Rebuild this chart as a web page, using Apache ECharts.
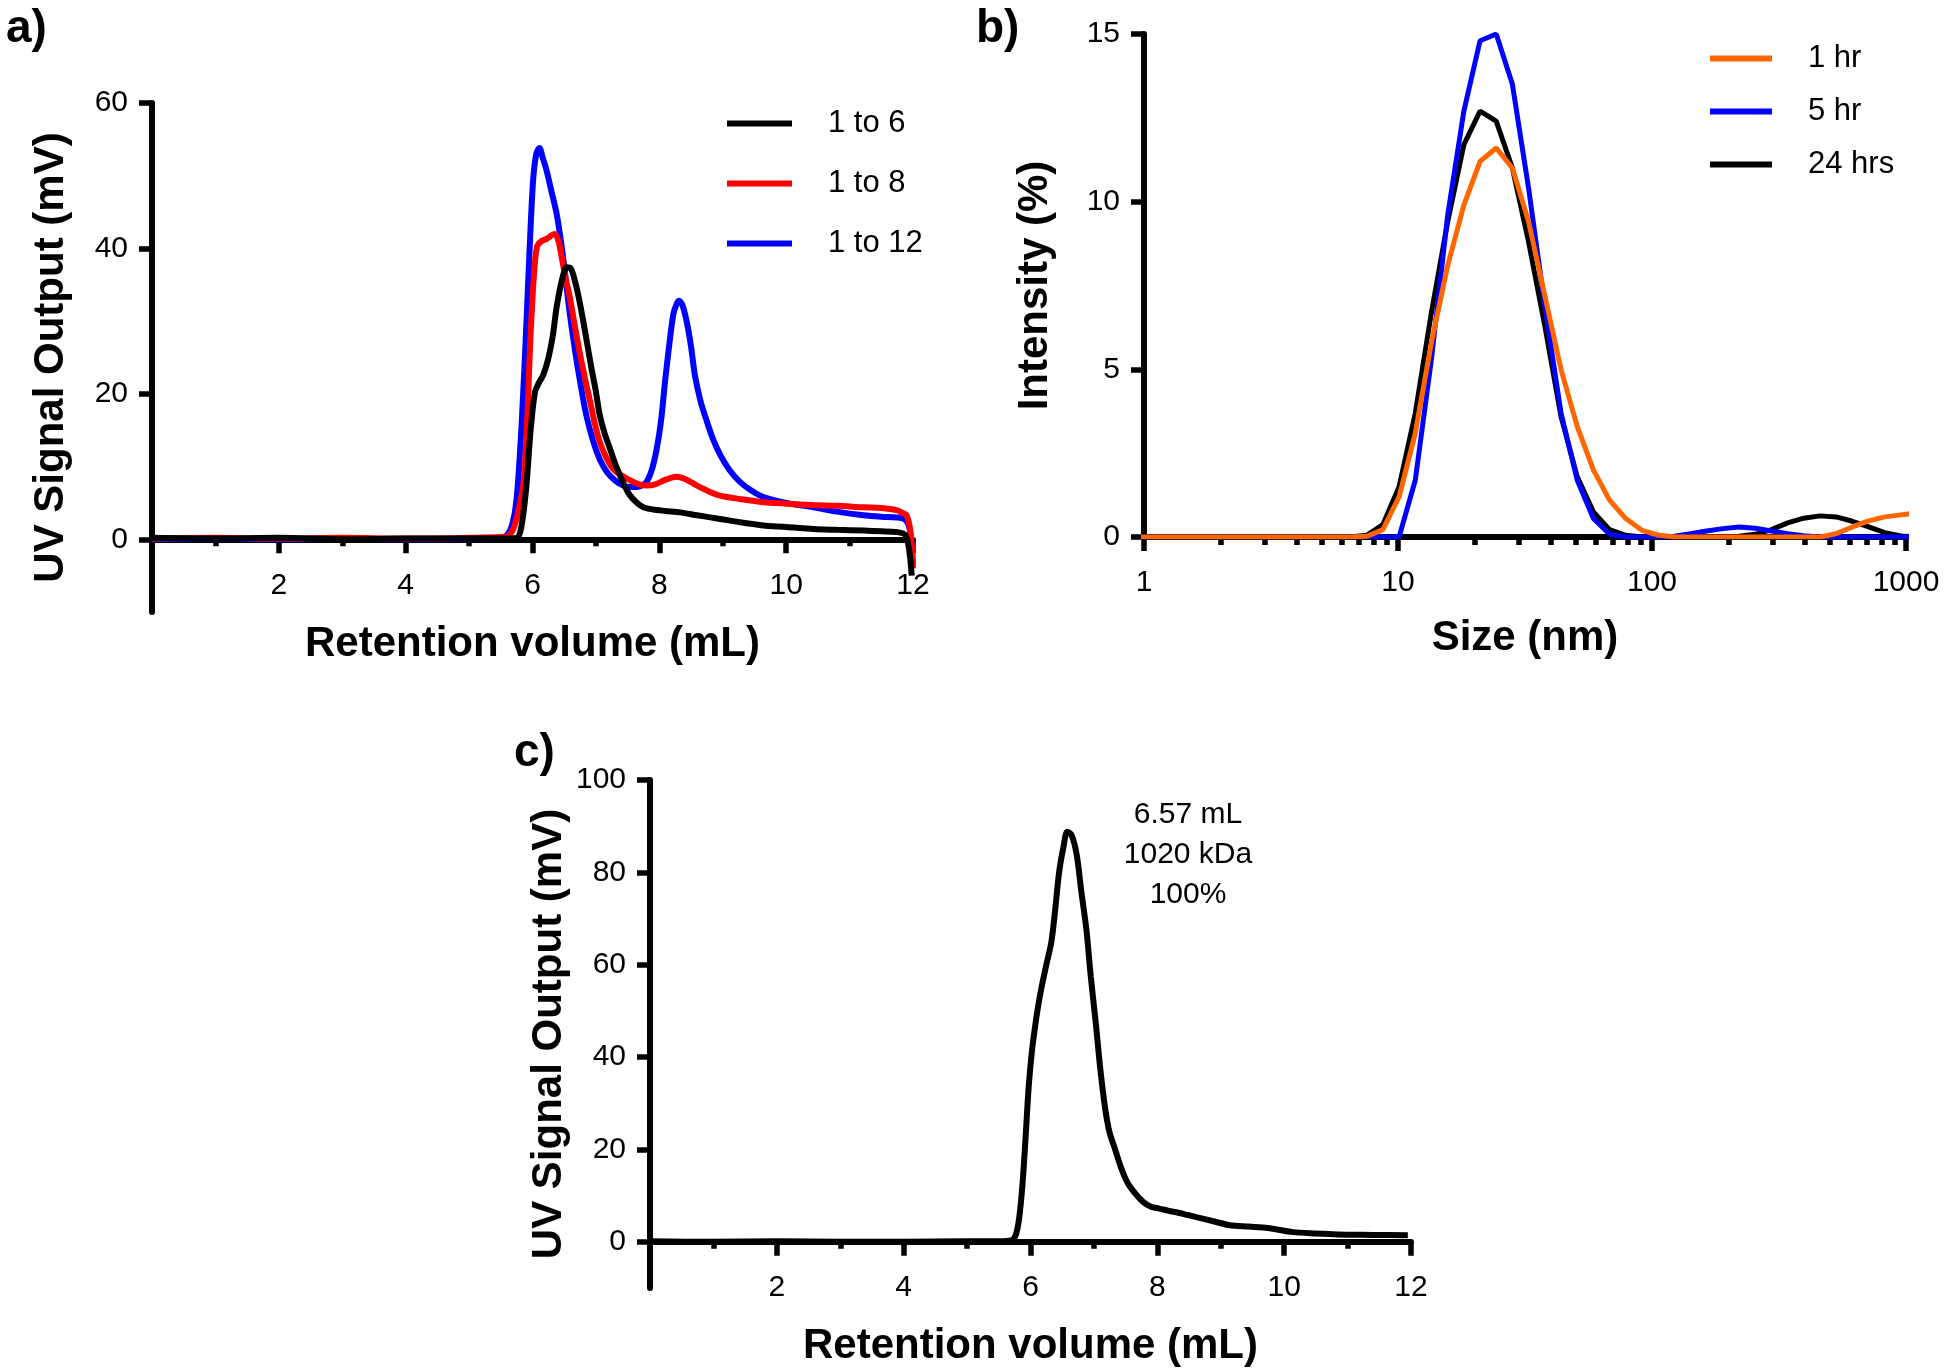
<!DOCTYPE html>
<html>
<head>
<meta charset="utf-8">
<script src="https://cdn.jsdelivr.net/npm/echarts@6/dist/echarts.min.js"></script>
<style>
html,body{margin:0;padding:0;background:#fff;}
#chart{width:1950px;height:1372px;}
</style>
</head>
<body>
<div id="chart"></div>
<script>
// ---------- Panel a: SEC traces (Retention volume mL vs UV mV) ----------
const a16X = [0,1,2,3,4,5,5.5,5.75,5.82,5.9,5.97,6.04,6.1,6.17,6.25,6.32,6.38,6.46,6.54,6.6,6.67,6.74,6.8,6.87,6.93,7.0,7.06,7.14,7.22,7.3,7.38,7.46,7.54,7.65,7.75,7.9,8.1,8.33,8.6,8.96,9.3,9.64,10.0,10.43,10.8,11.22,11.5,11.74,11.88,11.94,11.98];
const a16Y = [0.2,0.1,0.2,0.0,0.1,0.1,0.1,0.2,1.5,7,15,20.3,21.5,22.6,24.9,28,31.9,35.5,37.4,37.3,35.5,32.8,30.0,26.5,23.5,20.3,17.1,14.5,12.5,10.5,8.8,7.2,6.0,5.0,4.4,4.1,3.9,3.7,3.3,2.8,2.3,1.9,1.7,1.4,1.3,1.2,1.1,1.0,0.6,-1.5,-5.0];

const a18X = [0,1,2,3,4,5,5.5,5.62,5.7,5.78,5.86,5.92,5.96,6.02,6.07,6.14,6.22,6.3,6.35,6.41,6.46,6.52,6.59,6.67,6.75,6.83,6.91,6.98,7.06,7.16,7.27,7.4,7.54,7.67,7.8,7.95,8.1,8.27,8.43,8.59,8.75,8.96,9.3,9.64,10.0,10.43,10.8,11.22,11.5,11.74,11.84,11.9,11.96,12.0];
const a18Y = [0.1,0.2,0.1,0.2,0.1,0.2,0.3,0.5,1.5,4,7.9,17,26.3,36,40.2,41.0,41.3,41.8,42.0,41.0,38.8,36.0,33.2,29.2,25.4,22.0,18.9,16.0,13.4,11.3,9.7,8.8,8.1,7.6,7.4,7.6,8.2,8.6,8.2,7.4,6.7,6.0,5.5,5.1,4.9,4.7,4.6,4.4,4.3,4.0,3.6,3.3,1.0,-4.0];

const a112X = [0,1,2,3,4,5,5.5,5.6,5.68,5.75,5.83,5.91,5.96,6.01,6.06,6.11,6.16,6.22,6.3,6.38,6.44,6.49,6.54,6.59,6.67,6.75,6.85,6.96,7.06,7.17,7.3,7.43,7.54,7.64,7.72,7.8,7.88,7.96,8.03,8.09,8.16,8.22,8.27,8.31,8.36,8.43,8.5,8.56,8.65,8.75,8.85,8.96,9.1,9.27,9.45,9.64,10.0,10.43,10.8,11.22,11.5,11.74,11.86,11.93,11.97,12.0];
const a112Y = [0,0.1,0,0.1,0,0.1,0.2,0.6,2,5.6,16,30.9,41,49.4,53,53.8,52.5,50.8,47.8,44.8,41.5,38.3,34.5,30.9,26.0,21.7,17.0,13.4,11.0,9.3,8.1,7.4,7.2,7.2,7.4,7.9,9.5,12.5,16.5,21.7,27,30.9,32.3,32.8,32.3,30.0,26.5,22.6,19.0,16.2,13.7,11.6,9.6,7.9,6.7,5.8,5.0,4.4,3.8,3.3,3.1,3.0,2.8,2.0,0,-3.5];

const aYTicks = [0,20,40,60];
const aNames = ['1 to 6','1 to 8','1 to 12'];

// ---------- Panel b: DLS size distributions ----------
const bSizes = [0.9649,1.117,1.294,1.499,1.736,2.01,2.328,2.696,3.122,3.615,4.187,4.849,5.615,6.503,7.531,8.721,10.1,11.7,13.54,15.69,18.17,21.04,24.36,28.21,32.67,37.84,43.82,50.75,58.77,68.06,78.82,91.28,105.7,122.4,141.8,164.2,190.1,220.2,255.0,295.3,342.0,396.1,458.7,531.2,615.1,712.4,825.0,955.4,1106];
const b1hr = [0,0,0,0,0,0,0,0,0,0,0,0,0,0,0.02,0.22,1.2,3.1,5.8,8.1,9.9,11.2,11.6,11.0,9.4,7.2,5.0,3.3,2.0,1.1,0.55,0.2,0.06,0,0,0,0,0,0,0,0,0,0,0.1,0.3,0.48,0.6,0.66,0.72];
const b5hr = [0,0,0,0,0,0,0,0,0,0,0,0,0,0,0,0,0,1.7,5.3,9.6,12.7,14.8,15.0,13.5,10.4,6.9,3.7,1.7,0.55,0.08,0,0,0,0.02,0.1,0.18,0.25,0.3,0.26,0.18,0.1,0.04,0,0,0,0,0,0,0];
const b24hr = [0,0,0,0,0,0,0,0,0,0,0,0,0,0,0.05,0.37,1.5,3.7,6.7,9.4,11.7,12.7,12.4,11.0,8.8,6.3,3.6,1.8,0.75,0.22,0.05,0,0,0,0,0,0,0.02,0.08,0.22,0.42,0.56,0.63,0.6,0.47,0.3,0.13,0.03,0];
const bXMajor = [1,10,100,1000];
const bXMinor = [2,3,4,5,6,7,8,9,20,30,40,50,60,70,80,90,200,300,400,500,600,700,800,900];
const bYTicks = [0,5,10,15];
const bNames = ['1 hr','5 hr','24 hrs'];

// ---------- Panel c: single SEC trace ----------
const cX = [0,1,2,3,4,5,5.5,5.7,5.77,5.82,5.87,5.92,5.97,6.02,6.07,6.12,6.17,6.25,6.33,6.39,6.45,6.52,6.58,6.65,6.73,6.8,6.88,6.95,7.03,7.1,7.18,7.25,7.33,7.43,7.53,7.65,7.78,7.9,8.03,8.18,8.33,8.48,8.63,8.9,9.14,9.44,9.74,10.14,10.5,10.84,11.4,11.95];
const cY = [0.1,0,0.1,0,0,0.1,0.1,0.3,1.6,5,11.8,22,33.3,41,46.4,51,54.8,60,65.0,72,79.9,85.5,88.8,88,83.7,76,67.8,57.5,47.3,37.5,28.6,23.5,20.2,16,12.8,10.5,8.6,7.6,7.2,6.7,6.3,5.8,5.3,4.4,3.6,3.3,3.0,2.1,1.8,1.6,1.5,1.4];
const cYTicks = [0,20,40,60,80,100];
const cNote = ['6.57 mL','1020 kDa','100%'];

const pairs = (xs, ys) => xs.map((x, i) => [x, ys[i]]);

const FONT = 'Liberation Sans, Arial, sans-serif';
const tickLbl = {fontFamily: FONT, fontSize: 30, color: '#000'};
const nameStyle = {fontFamily: FONT, fontSize: 42, fontWeight: 'bold', color: '#000'};
const AXW = 6;
const TKW = 5.5;
const axLine = () => ({show: true, onZero: false, lineStyle: {color: '#000', width: AXW}});

// Grid boxes (layout)
const G = [
  {left: 152, right: 1037, top: 103, bottom: 760},
  {left: 1144, right: 44, top: 34, bottom: 835},
  {left: 650, right: 539, top: 780, bottom: 84}
];
// x axis sits at y = 0 while y axis extends to -10: shift the axis up by that fraction of the grid height
const zeroOffset = (g, ymin, ymax) => -(1372 - g.top - g.bottom) * (0 - ymin) / (ymax - ymin);

function linX(grid, off) {
  return {
    type: 'value', gridIndex: grid, min: 0, max: 12, interval: 2, position: 'bottom', offset: off,
    axisLine: axLine(),
    axisTick: {show: true, length: 14, lineStyle: {color: '#000', width: TKW}},
    minorTick: {show: true, splitNumber: 2, length: 7, lineStyle: {color: '#000', width: TKW}},
    axisLabel: Object.assign({margin: 31, showMinLabel: false}, tickLbl),
    splitLine: {show: false}, minorSplitLine: {show: false},
    name: 'Retention volume (mL)', nameLocation: 'middle', nameGap: 84, nameTextStyle: nameStyle
  };
}
function yAx(grid, min, max, ticks, name, gap) {
  return {
    type: 'value', gridIndex: grid, min: min, max: max, position: 'left',
    axisLine: axLine(),
    axisTick: {show: true, length: 13, customValues: ticks, lineStyle: {color: '#000', width: TKW}},
    axisLabel: Object.assign({margin: 24, customValues: ticks}, tickLbl),
    splitLine: {show: false},
    name: name, nameLocation: 'middle', nameRotate: 90, nameGap: gap, nameTextStyle: nameStyle
  };
}

const option = {
  backgroundColor: '#fff',
  animation: false,
  grid: G,
  xAxis: [
    linX(0, zeroOffset(G[0], -10, 60)),
    {
      type: 'log', gridIndex: 1, min: 1, max: 1000, logBase: 10, position: 'bottom',
      axisLine: axLine(),
      axisTick: {show: true, length: 14, customValues: bXMajor, lineStyle: {color: '#000', width: TKW}},
      axisLabel: Object.assign({margin: 31, customValues: bXMajor, formatter: v => String(Math.round(v))}, tickLbl),
      splitLine: {show: false},
      name: 'Size (nm)', nameLocation: 'middle', nameGap: 80, nameTextStyle: nameStyle
    },
    {
      type: 'log', gridIndex: 1, min: 1, max: 1000, logBase: 10, position: 'bottom',
      axisLine: {show: false, onZero: false},
      axisTick: {show: true, length: 8, customValues: bXMinor, lineStyle: {color: '#000', width: TKW}},
      axisLabel: {show: false},
      splitLine: {show: false}
    },
    linX(2, zeroOffset(G[2], -10, 100))
  ],
  yAxis: [
    yAx(0, -10, 60, aYTicks, 'UV Signal Output (mV)', 80),
    yAx(1, 0, 15, bYTicks, 'Intensity (%)', 88),
    yAx(2, -10, 100, cYTicks, 'UV Signal Output (mV)', 80)
  ],
  legend: [
    {
      data: aNames, orient: 'vertical', left: 727, top: 108, padding: 0,
      icon: 'rect', itemWidth: 65, itemHeight: 6, itemGap: 29,
      textStyle: {fontFamily: FONT, fontSize: 31, color: '#000', lineHeight: 30, padding: [0, 0, 0, 31]}
    },
    {
      data: bNames, orient: 'vertical', left: 1710, top: 43, padding: 0,
      icon: 'rect', itemWidth: 62, itemHeight: 6, itemGap: 22,
      textStyle: {fontFamily: FONT, fontSize: 31, color: '#000', lineHeight: 30, padding: [0, 0, 0, 31]}
    }
  ],
  graphic: [
    {type: 'text', left: 6, top: 6, style: {text: 'a)', font: 'bold 46px ' + FONT, fill: '#000'}},
    {type: 'text', left: 976, top: 6, style: {text: 'b)', font: 'bold 46px ' + FONT, fill: '#000'}},
    {type: 'text', left: 514, top: 730, style: {text: 'c)', font: 'bold 46px ' + FONT, fill: '#000'}},
    {type: 'text', x: 1188, y: 795, style: {text: cNote.join('\n'), font: '30px ' + FONT, fill: '#000', align: 'center', lineHeight: 40}}
  ],
  series: [
    {name: '1 to 12', type: 'line', xAxisIndex: 0, yAxisIndex: 0, data: pairs(a112X, a112Y), showSymbol: false, symbol: 'none', smooth: 0.3, lineStyle: {color: '#0000ff', width: 6}, itemStyle: {color: '#0000ff'}},
    {name: '1 to 8', type: 'line', xAxisIndex: 0, yAxisIndex: 0, data: pairs(a18X, a18Y), showSymbol: false, symbol: 'none', smooth: 0.3, lineStyle: {color: '#ff0000', width: 6}, itemStyle: {color: '#ff0000'}},
    {name: '1 to 6', type: 'line', xAxisIndex: 0, yAxisIndex: 0, data: pairs(a16X, a16Y), showSymbol: false, symbol: 'none', smooth: 0.3, lineStyle: {color: '#000000', width: 6}, itemStyle: {color: '#000000'}},

    {name: '24 hrs', type: 'line', xAxisIndex: 1, yAxisIndex: 1, data: pairs(bSizes, b24hr), showSymbol: false, symbol: 'none', lineStyle: {color: '#000000', width: 5}, itemStyle: {color: '#000000'}},
    {name: '5 hr', type: 'line', xAxisIndex: 1, yAxisIndex: 1, data: pairs(bSizes, b5hr), showSymbol: false, symbol: 'none', lineStyle: {color: '#0000ff', width: 5}, itemStyle: {color: '#0000ff'}},
    {name: '1 hr', type: 'line', xAxisIndex: 1, yAxisIndex: 1, data: pairs(bSizes, b1hr), showSymbol: false, symbol: 'none', lineStyle: {color: '#ff6600', width: 5}, itemStyle: {color: '#ff6600'}},

    {name: 'c', type: 'line', xAxisIndex: 3, yAxisIndex: 2, data: pairs(cX, cY), showSymbol: false, symbol: 'none', smooth: 0.3, lineStyle: {color: '#000000', width: 6}, itemStyle: {color: '#000000'}}
  ]
};

const chart = echarts.init(document.getElementById('chart'), null, {renderer: 'canvas'});
chart.setOption(option);
</script>
</body>
</html>
